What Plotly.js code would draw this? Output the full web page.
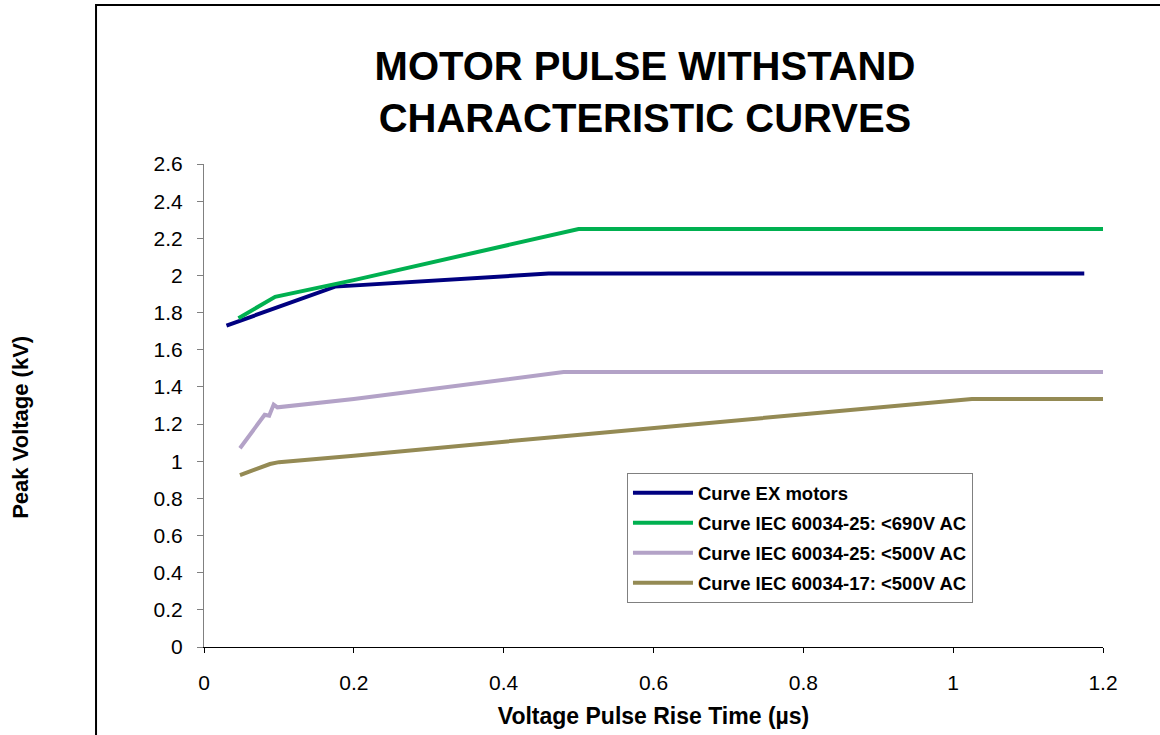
<!DOCTYPE html>
<html>
<head>
<meta charset="utf-8">
<script src="https://cdn.plot.ly/plotly-3.0.1.min.js"></script>
<style>html,body{margin:0;padding:0;background:#fff;}#chart{width:1160px;height:735px;}</style>
</head>
<body>
<div id="chart"></div>
<script>
// Curve EX motors
const exX = [0.03, 0.175, 0.46, 1.175];
const exY = [1.73, 1.94, 2.01, 2.01];
// Curve IEC 60034-25: <690V AC
const iec690X = [0.046, 0.08, 0.085, 0.095, 0.2, 0.484, 0.5, 1.2];
const iec690Y = [1.77, 1.85, 1.865, 1.885, 1.975, 2.235, 2.25, 2.25];
// Curve IEC 60034-25: <500V AC
const iec500X = [0.048, 0.081, 0.087, 0.093, 0.098, 0.2, 0.48, 1.2];
const iec500Y = [1.07, 1.25, 1.245, 1.305, 1.29, 1.335, 1.48, 1.48];
// Curve IEC 60034-17: <500V AC
const iec17X = [0.048, 0.088, 0.1, 0.2, 0.48, 1.025, 1.2];
const iec17Y = [0.925, 0.985, 0.995, 1.03, 1.135, 1.335, 1.335];

const names = ['Curve EX motors', 'Curve IEC 60034-25: <690V AC', 'Curve IEC 60034-25: <500V AC', 'Curve IEC 60034-17: <500V AC'];
const colors = ['#000080', '#00b050', '#b3a2c7', '#948a54'];
const xs = [exX, iec690X, iec500X, iec17X];
const ys = [exY, iec690Y, iec500Y, iec17Y];

const data = xs.map((x, i) => ({
  x: x, y: ys[i], type: 'scatter', mode: 'lines', name: names[i],
  legendgroup: 'g' + i,
  line: {color: colors[i], width: 4}
}));

const font = 'Arial, "Liberation Sans", sans-serif';
const layout = {
  width: 1160, height: 735,
  margin: {l: 204, r: 57, t: 164, b: 88},
  paper_bgcolor: '#fff', plot_bgcolor: '#fff',
  font: {family: font, color: '#000'},
  title: {
    text: '<b>MOTOR PULSE WITHSTAND<br>CHARACTERISTIC CURVES</b>',
    font: {size: 40, family: font, color: '#000'},
    x: 0.556, xanchor: 'center', y: 0.891, yanchor: 'top'
  },
  xaxis: {
    range: [0, 1.2], tickvals: [0, 0.2, 0.4, 0.6, 0.8, 1, 1.2],
    ticktext: ['0', '0.2', '0.4', '0.6', '0.8', '1', '1.2'],
    showgrid: false, zeroline: false, showline: true, linecolor: '#000', linewidth: 1,
    ticks: 'outside', ticklen: 5, tickcolor: '#000',
    tickfont: {size: 21, family: font}, ticklabelstandoff: 12,
    title: {text: '<b>Voltage Pulse Rise Time (µs)</b>', font: {size: 23, family: font}, standoff: 14}
  },
  yaxis: {
    range: [0, 2.6], dtick: 0.2, tick0: 0,
    showgrid: false, zeroline: false, showline: true, linecolor: '#808080', linewidth: 1,
    ticks: 'outside', ticklen: 6, tickcolor: '#808080',
    tickfont: {size: 21, family: font}, ticklabelstandoff: 10
  },
  annotations: [{
    text: '<b>Peak Voltage (kV)</b>', textangle: -90, xref: 'paper', yref: 'paper',
    x: -0.204, y: 0.455, xanchor: 'center', yanchor: 'middle', showarrow: false,
    font: {size: 22, family: font}
  }],
  shapes: [{
    type: 'rect', xref: 'paper', yref: 'paper',
    x0: -0.1201, x1: 1.3, y0: -0.3, y1: 1.3292,
    line: {color: '#000', width: 2}, fillcolor: 'rgba(0,0,0,0)', layer: 'below'
  }],
  showlegend: true,
  legend: {
    x: 0.4705, y: 0.36, xanchor: 'left', yanchor: 'top',
    bgcolor: '#fff', bordercolor: '#808080', borderwidth: 1,
    font: {size: 18.5, family: font, color: '#000', weight: 'bold'},
    itemwidth: 60, tracegroupgap: 3
  }
};

Plotly.newPlot('chart', data, layout, {displayModeBar: false, staticPlot: true});
</script>
</body>
</html>
